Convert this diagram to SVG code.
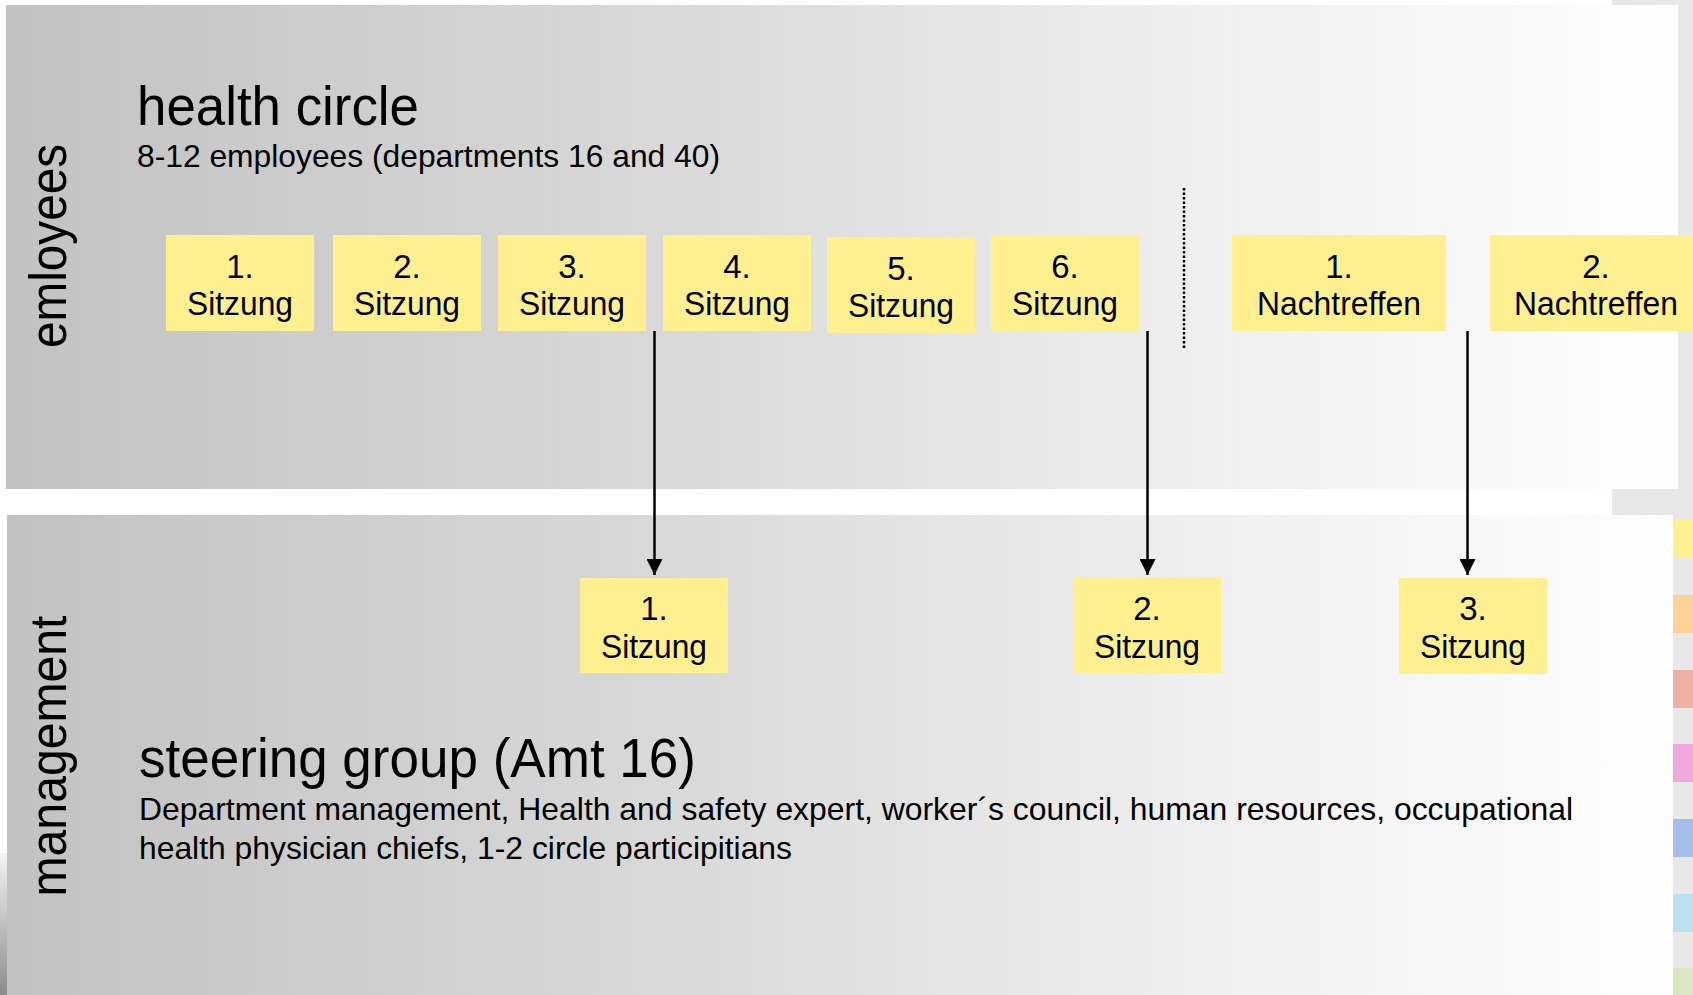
<svg xmlns="http://www.w3.org/2000/svg" width="1693" height="995" viewBox="0 0 1693 995">
<defs>
<linearGradient id="panelGrad" x1="0" y1="0" x2="1" y2="0">
<stop offset="0" stop-color="#c2c2c2"/>
<stop offset="0.4" stop-color="#d9d9d9"/>
<stop offset="0.7" stop-color="#eeeeee"/>
<stop offset="1" stop-color="#fefefe"/>
</linearGradient>
<linearGradient id="edgeGrad" x1="0" y1="0" x2="0" y2="1">
<stop offset="0" stop-color="#f4f4f4"/>
<stop offset="1" stop-color="#8c8c8c"/>
</linearGradient>
<marker id="arrow" markerUnits="userSpaceOnUse" markerWidth="16" markerHeight="16" viewBox="0 0 16 16" refX="16" refY="8" orient="auto">
<path d="M0,0 L16,8 L0,16 Z" fill="#000"/>
</marker>
</defs>
<style>
.box { fill: #fff08f; }
.lbl { font-family: "Liberation Sans", Arial, sans-serif; font-size: 33px; fill: #000; text-anchor: middle; }
.txt { font-family: "Liberation Sans", Arial, sans-serif; fill: #000; }
.conn { stroke: #000; stroke-width: 2.5; fill: none; }
</style>
<rect x="0" y="0" width="1693" height="995" fill="#ffffff"/>
<rect x="1612" y="0" width="81" height="995" fill="#e8e8e8"/>
<g id="lane-employees">
<rect x="6" y="5" width="1672" height="484" fill="url(#panelGrad)"/>
<text class="txt" font-size="52" text-anchor="middle" transform="translate(66,246) rotate(-90)" textLength="204" lengthAdjust="spacingAndGlyphs">emloyees</text>
<text class="txt" x="137" y="125" font-size="55" textLength="282" lengthAdjust="spacingAndGlyphs">health circle</text>
<text class="txt" x="137" y="167" font-size="32" textLength="583" lengthAdjust="spacingAndGlyphs">8-12 employees (departments 16 and 40)</text>
</g>
<g id="lane-management">
<rect x="7" y="515" width="1666" height="480" fill="url(#panelGrad)"/>
<text class="txt" font-size="52" text-anchor="middle" transform="translate(66,756) rotate(-90)" textLength="281" lengthAdjust="spacingAndGlyphs">management</text>
<text class="txt" x="139" y="777" font-size="55" textLength="557" lengthAdjust="spacingAndGlyphs">steering group (Amt 16)</text>
<text class="txt" x="139" y="820" font-size="32" textLength="1434" lengthAdjust="spacingAndGlyphs">Department management, Health and safety expert, worker´s council, human resources, occupational</text>
<text class="txt" x="139" y="859" font-size="32" textLength="653" lengthAdjust="spacingAndGlyphs">health physician chiefs, 1-2 circle participitians</text>
</g>
<rect x="0" y="853" width="7" height="142" fill="url(#edgeGrad)"/>
<g id="legend-strip">
<rect x="1673" y="520" width="20" height="38" fill="#fff08f"/>
<rect x="1673" y="595" width="20" height="38" fill="#fed395"/>
<rect x="1673" y="670" width="20" height="38" fill="#efb0a5"/>
<rect x="1673" y="744" width="20" height="38" fill="#f0a8de"/>
<rect x="1673" y="819" width="20" height="38" fill="#a5bde9"/>
<rect x="1673" y="894" width="20" height="38" fill="#bce0f0"/>
<rect x="1673" y="968" width="20" height="27" fill="#d8e6c4"/>
</g>
<g id="separator">
<line x1="1184" y1="188" x2="1184" y2="350" stroke="#000" stroke-width="2.5" stroke-dasharray="2.5 2"/>
</g>
<g id="hc1"><rect class="box" x="166" y="235" width="148" height="96"/><text class="lbl" x="240" y="278">1.</text><text class="lbl" x="240" y="315" textLength="106" lengthAdjust="spacingAndGlyphs">Sitzung</text></g>
<g id="hc2"><rect class="box" x="333" y="235" width="148" height="96"/><text class="lbl" x="407" y="278">2.</text><text class="lbl" x="407" y="315" textLength="106" lengthAdjust="spacingAndGlyphs">Sitzung</text></g>
<g id="hc3"><rect class="box" x="498" y="235" width="148" height="96"/><text class="lbl" x="572" y="278">3.</text><text class="lbl" x="572" y="315" textLength="106" lengthAdjust="spacingAndGlyphs">Sitzung</text></g>
<g id="hc4"><rect class="box" x="663" y="235" width="148" height="96"/><text class="lbl" x="737" y="278">4.</text><text class="lbl" x="737" y="315" textLength="106" lengthAdjust="spacingAndGlyphs">Sitzung</text></g>
<g id="hc5"><rect class="box" x="827" y="237" width="148" height="96"/><text class="lbl" x="901" y="280">5.</text><text class="lbl" x="901" y="317" textLength="106" lengthAdjust="spacingAndGlyphs">Sitzung</text></g>
<g id="hc6"><rect class="box" x="991" y="235" width="148" height="96"/><text class="lbl" x="1065" y="278">6.</text><text class="lbl" x="1065" y="315" textLength="106" lengthAdjust="spacingAndGlyphs">Sitzung</text></g>
<g id="nt1"><rect class="box" x="1232" y="235" width="214" height="96"/><text class="lbl" x="1339" y="278">1.</text><text class="lbl" x="1339" y="315" textLength="164" lengthAdjust="spacingAndGlyphs">Nachtreffen</text></g>
<g id="nt2"><rect class="box" x="1490" y="235" width="214" height="96"/><text class="lbl" x="1596" y="278">2.</text><text class="lbl" x="1596" y="315" textLength="164" lengthAdjust="spacingAndGlyphs">Nachtreffen</text></g>
<g id="sg1"><rect class="box" x="580" y="578" width="148" height="95"/><text class="lbl" x="654" y="620">1.</text><text class="lbl" x="654" y="658" textLength="106" lengthAdjust="spacingAndGlyphs">Sitzung</text></g>
<g id="sg2"><rect class="box" x="1073" y="577" width="148" height="96"/><text class="lbl" x="1147" y="620">2.</text><text class="lbl" x="1147" y="658" textLength="106" lengthAdjust="spacingAndGlyphs">Sitzung</text></g>
<g id="sg3"><rect class="box" x="1399" y="578" width="148" height="96"/><text class="lbl" x="1473" y="620">3.</text><text class="lbl" x="1473" y="658" textLength="106" lengthAdjust="spacingAndGlyphs">Sitzung</text></g>
<g id="connectors">
<line class="conn" x1="654.5" y1="331" x2="654.5" y2="575" marker-end="url(#arrow)"/>
<line class="conn" x1="1147.5" y1="331" x2="1147.5" y2="575" marker-end="url(#arrow)"/>
<line class="conn" x1="1467.5" y1="331" x2="1467.5" y2="575" marker-end="url(#arrow)"/>
</g>
</svg>
